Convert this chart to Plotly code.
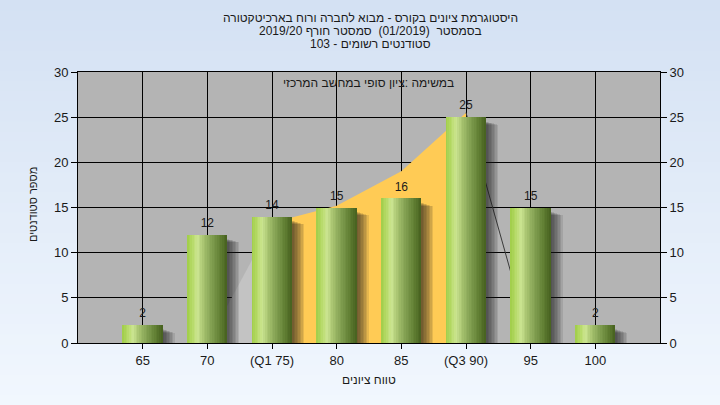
import plotly.graph_objects as go

# ---------------- data ----------------
grades = [65, 70, 75, 80, 85, 90, 95, 100]
tick_labels = ["65", "70", "(Q1 75)", "80", "85", "(Q3 90)", "95", "100"]
students = [2, 12, 14, 15, 16, 25, 15, 2]

# distribution curve drawn behind the bars
curve_low_x = [70, 75]
curve_low_y = [0, 13.3]
curve_iqr_x = [75, 80, 85, 90]
curve_iqr_y = [13.3, 15.2, 19.0, 25.5]
curve_high_x = [90, 95]
curve_high_y = [25.5, 0]

title_lines = [
    "היסטוגרמת ציונים בקורס - מבוא לחברה ורוח בארכיטקטורה",
    "בסמסטר  (01/2019)  סמסטר חורף 2019/20",
    "סטודנטים רשומים - 103",
]
note_text = "במשימה :ציון סופי במחשב המרכזי"
x_title = "טווח ציונים"
y_title = "מספר סטודנטים"

# ---------------- layout geometry ----------------
W, H = 720, 405
L, R, T, B = 78, 60, 72, 62
PW = W - L - R
PH = H - T - B
X_RANGE = [60, 105]
Y_RANGE = [0, 30]
ux = (X_RANGE[1] - X_RANGE[0]) / PW  # data units per pixel
uy = (Y_RANGE[1] - Y_RANGE[0]) / PH

def pxx(x):
    return (x - L) / PW

def pxy(y):
    return (H - B - y) / PH

RLM = "\u200f"
FONT = "Liberation Sans, Arial, sans-serif"

fig = go.Figure()

# ---- curve (base subplot, behind bars) ----
fig.add_trace(go.Scatter(x=curve_low_x, y=curve_low_y, mode="lines", fill="tozeroy",
                         fillcolor="#C3C3C3", line=dict(width=0), hoverinfo="skip",
                         showlegend=False))
fig.add_trace(go.Scatter(x=curve_iqr_x, y=curve_iqr_y, mode="lines", fill="tozeroy",
                         fillcolor="#FFCB55", line=dict(width=0), hoverinfo="skip",
                         showlegend=False))
fig.add_trace(go.Scatter(x=curve_high_x, y=curve_high_y, mode="lines",
                         line=dict(color="#3a3a3a", width=1), hoverinfo="skip",
                         showlegend=False))

# ---- bars (overlay subplot) ----
BW = 40 * ux  # bar width in data units

# soft shadow
for d in [1.5, 3, 4.5, 6, 7.5, 9, 10.5, 12]:
    fig.add_trace(go.Bar(x=grades, y=[v - (4 + d * 0.3) * uy for v in students], yaxis="y2",
                         width=BW, offset=-BW / 2 + d * ux,
                         marker=dict(color="rgba(30,30,30,0.11)", line=dict(width=0)),
                         hoverinfo="skip", showlegend=False))

stops = [
    (0.00, (160, 205, 72)),
    (0.12, (180, 217, 100)),
    (0.26, (204, 229, 145)),
    (0.42, (165, 193, 110)),
    (0.62, (128, 158, 80)),
    (0.82, (98, 128, 52)),
    (1.00, (70, 96, 30)),
]

def col(t):
    for i in range(len(stops) - 1):
        t0, c0 = stops[i]
        t1, c1 = stops[i + 1]
        if t0 <= t <= t1:
            f = (t - t0) / (t1 - t0)
            c = [round(c0[k] + (c1[k] - c0[k]) * f) for k in range(3)]
            return "rgb(%d,%d,%d)" % tuple(c)
    return "rgb(%d,%d,%d)" % stops[-1][1]

N = 24
sw = BW / N
for i in range(N):
    fig.add_trace(go.Bar(x=grades, y=students, yaxis="y2",
                         width=sw * 1.08, offset=-BW / 2 + i * sw,
                         marker=dict(color=col((i + 0.5) / N), line=dict(width=0)),
                         hoverinfo="skip", showlegend=False))

# value labels (invisible marker lifts the text a little above the bar top)
fig.add_trace(go.Scatter(x=grades, y=students, yaxis="y2", mode="markers+text",
                         marker=dict(size=6, opacity=0),
                         text=[str(v) for v in students], textposition="top center",
                         textfont=dict(family=FONT, size=12, color="#1a1a1a"),
                         hoverinfo="skip", showlegend=False))

# ---- background gradient (paper) + plot area ----
shapes = []
top_c = (212, 225, 243)
bot_c = (241, 247, 254)
NS = 40
y0p, y1p = pxy(H), pxy(0)
for i in range(NS):
    f = i / (NS - 1)
    c = tuple(round(bot_c[k] + (top_c[k] - bot_c[k]) * f) for k in range(3))
    ya = y0p + (y1p - y0p) * i / NS
    yb = y0p + (y1p - y0p) * (i + 1) / NS + 0.003
    shapes.append(dict(type="rect", xref="paper", yref="paper", x0=pxx(0) - 0.01,
                       x1=pxx(W) + 0.01, y0=ya, y1=yb, layer="below",
                       fillcolor="rgb(%d,%d,%d)" % c, line=dict(width=0)))
shapes.append(dict(type="rect", xref="paper", yref="paper", x0=0, x1=1, y0=0, y1=1,
                   layer="below", fillcolor="#B4B4B4", line=dict(width=0)))

annotations = []
for i, line in enumerate(title_lines):
    annotations.append(dict(text=RLM + line + RLM, xref="paper", yref="paper",
                            x=pxx(370), y=pxy(18 + 13 * i), showarrow=False,
                            xanchor="center", yanchor="middle",
                            font=dict(family=FONT, size=12, color="#1a1a1a")))
annotations.append(dict(text=RLM + note_text + RLM, xref="paper", yref="paper",
                        x=pxx(368), y=pxy(83), showarrow=False, xanchor="center",
                        yanchor="middle", font=dict(family=FONT, size=12, color="#1a1a1a")))
annotations.append(dict(text=RLM + x_title + RLM, xref="paper", yref="paper",
                        x=pxx(369), y=pxy(380), showarrow=False, xanchor="center",
                        yanchor="middle", font=dict(family=FONT, size=12, color="#1a1a1a")))
annotations.append(dict(text=RLM + y_title + RLM, xref="paper", yref="paper",
                        x=pxx(33), y=pxy(205), showarrow=False, textangle=-90,
                        xanchor="center", yanchor="middle",
                        font=dict(family=FONT, size=11, color="#1a1a1a")))

tick_font = dict(family=FONT, size=13, color="#1a1a1a")
fig.update_layout(
    width=W, height=H,
    margin=dict(l=L, r=R, t=T, b=B, pad=0),
    paper_bgcolor="rgb(226,236,249)",
    plot_bgcolor="rgba(0,0,0,0)",
    barmode="overlay",
    bargap=0,
    shapes=shapes,
    annotations=annotations,
    showlegend=False,
    xaxis=dict(range=X_RANGE, tickmode="array", tickvals=grades, ticktext=tick_labels,
               showgrid=True, gridcolor="#000000", gridwidth=1,
               showline=True, linecolor="#000000", linewidth=1, mirror=True,
               ticks="outside", ticklen=5, tickcolor="#000000", tickfont=tick_font,
               zeroline=False, fixedrange=True),
    yaxis=dict(range=Y_RANGE, tickmode="array", tickvals=[0, 5, 10, 15, 20, 25, 30],
               showgrid=True, gridcolor="#000000", gridwidth=1,
               showline=True, linecolor="#000000", linewidth=1, mirror=True,
               ticks="outside", ticklen=6, tickcolor="#000000", tickfont=tick_font,
               zeroline=False, fixedrange=True),
    yaxis2=dict(range=Y_RANGE, overlaying="y", side="right", tickmode="array",
                tickvals=[0, 5, 10, 15, 20, 25, 30], showgrid=False,
                showline=True, linecolor="#000000", linewidth=1,
                ticks="outside", ticklen=6, tickcolor="#000000", tickfont=tick_font,
                zeroline=False, fixedrange=True),
)

fig.write_html("out.html", config={"displayModeBar": False},
               post_script="document.body.style.margin='0';document.body.style.padding='0';")
